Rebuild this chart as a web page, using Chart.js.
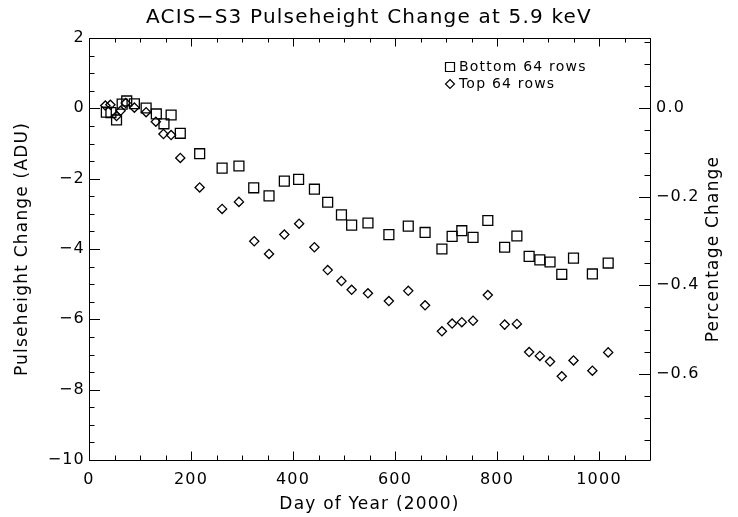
<!DOCTYPE html>
<html>
<head>
<meta charset="utf-8">
<script src="https://cdn.jsdelivr.net/npm/chart.js@4.4.1/dist/chart.umd.min.js"></script>
<style>
html,body{margin:0;padding:0;background:#fff;}
#wrap{width:738px;height:517px;}
</style>
</head>
<body>
<div id="wrap"><canvas id="c" width="738" height="517"></canvas></div>
<script>
// ---- data ----
const bottomDays = [34, 43, 54, 65, 74, 89, 112, 132, 147, 161, 179, 217, 261, 294, 323, 353, 383, 411, 442, 468, 495, 515, 547, 588, 626, 659, 692, 712, 731, 753, 782, 815, 839, 863, 884, 904, 927, 950, 987, 1018];
const bottomADU = [-0.11, -0.12, -0.33, 0.12, 0.21, 0.13, 0.01, -0.16, -0.44, -0.19, -0.71, -1.29, -1.70, -1.64, -2.26, -2.49, -2.07, -2.02, -2.30, -2.67, -3.03, -3.32, -3.26, -3.59, -3.35, -3.53, -4.00, -3.64, -3.48, -3.67, -3.19, -3.95, -3.63, -4.21, -4.31, -4.37, -4.72, -4.26, -4.71, -4.40];
const topDays = [32, 42, 54, 62, 72, 89, 112, 131, 146, 161, 179, 217, 261, 294, 324, 353, 383, 412, 442, 468, 495, 515, 547, 588, 626, 659, 692, 712, 731, 753, 782, 815, 839, 863, 884, 904, 927, 950, 987, 1018];
const topADU = [0.08, 0.10, -0.22, -0.07, 0.15, 0.02, -0.11, -0.38, -0.73, -0.76, -1.41, -2.25, -2.86, -2.66, -3.78, -4.14, -3.59, -3.28, -3.95, -4.60, -4.91, -5.16, -5.26, -5.48, -5.19, -5.60, -6.34, -6.12, -6.08, -6.04, -5.31, -6.15, -6.13, -6.93, -7.04, -7.20, -7.62, -7.17, -7.46, -6.94];
const seriesNames = ['Bottom 64 rows', 'Top 64 rows'];
const titleText = 'ACIS\u2212S3 Pulseheight Change at 5.9 keV';
const xTitle = 'Day of Year (2000)';
const yTitle = 'Pulseheight Change (ADU)';
const y2Title = 'Percentage Change';
const xRange = [0, 1100];
const yRange = [-10, 2];
const pctPerADU = 0.0795; // right axis: percent change per ADU

const FONT = "'DejaVu Sans', sans-serif";
const INK = '#000';
const SPACING = '1.2px';
function fmtMinus(s){ return String(s).replace('-', '\u2212'); }
function rangeTicks(lo, hi, step){
  const out = [];
  const n0 = Math.ceil(lo/step - 1e-9), n1 = Math.floor(hi/step + 1e-9);
  for (let n = n0; n <= n1; n++) out.push({value: +(n*step).toFixed(6)});
  return out;
}

const spacingPlugin = {
  id: 'spacing',
  beforeLayout(chart){ chart.ctx.letterSpacing = SPACING; },
  beforeDraw(chart){ chart.ctx.letterSpacing = SPACING; }
};

const frameTicks = {
  id: 'frameTicks',
  afterDraw(chart){
    const {ctx, chartArea: a, scales} = chart;
    ctx.save();
    ctx.strokeStyle = INK;
    ctx.lineWidth = 1;
    ctx.beginPath();
    ctx.rect(Math.round(a.left)+0.5, Math.round(a.top)+0.5, Math.round(a.right-a.left), Math.round(a.bottom-a.top));
    ctx.stroke();
    ctx.beginPath();
    scales.x.ticks.forEach(t => {
      const px = Math.round(scales.x.getPixelForValue(t.value)) + 0.5;
      const len = (Math.round(t.value) % 200 === 0) ? 8.5 : 4.5;
      ctx.moveTo(px, a.bottom); ctx.lineTo(px, a.bottom - len);
      ctx.moveTo(px, a.top); ctx.lineTo(px, a.top + len);
    });
    scales.y.ticks.forEach(t => {
      const py = Math.round(scales.y.getPixelForValue(t.value)) + 0.5;
      const len = (Math.abs(t.value % 2) < 1e-6) ? 11 : 5.5;
      ctx.moveTo(a.left, py); ctx.lineTo(a.left + len, py);
    });
    scales.y2.ticks.forEach(t => {
      const py = Math.round(scales.y2.getPixelForValue(t.value)) + 0.5;
      const len = (Math.round(t.value*100) % 20 === 0) ? 11 : 5.5;
      ctx.moveTo(a.right, py); ctx.lineTo(a.right - len, py);
    });
    ctx.stroke();

    // right axis title, reading bottom to top
    ctx.letterSpacing = SPACING;
    ctx.fillStyle = INK;
    ctx.font = '17px ' + FONT;
    ctx.textAlign = 'center';
    ctx.textBaseline = 'middle';
    ctx.translate(714, (a.top + a.bottom)/2);
    ctx.rotate(-Math.PI/2);
    ctx.fillText(y2Title, 0, 0);
    ctx.restore();

    // legend inside plot (open markers)
    ctx.save();
    ctx.letterSpacing = SPACING;
    ctx.font = '14px ' + FONT;
    ctx.textBaseline = 'middle';
    ctx.textAlign = 'left';
    const lx = 450, ly = [67, 84];
    chart.data.datasets.forEach((ds, i) => {
      ctx.strokeStyle = INK;
      ctx.lineWidth = 1.2;
      ctx.beginPath();
      if (ds.pointStyle === 'rect') {
        ctx.rect(lx - 4.5, ly[i] - 4.5, 9, 9);
      } else {
        ctx.moveTo(lx, ly[i] - 4.5); ctx.lineTo(lx + 4.5, ly[i]);
        ctx.lineTo(lx, ly[i] + 4.5); ctx.lineTo(lx - 4.5, ly[i]); ctx.closePath();
      }
      ctx.stroke();
      ctx.fillStyle = INK;
      ctx.fillText(ds.label, lx + 9, ly[i] + 0.5);
    });
    ctx.restore();
  }
};

new Chart(document.getElementById('c'), {
  type: 'scatter',
  data: {
    datasets: [
      { label: seriesNames[0], data: bottomDays.map((d,i)=>({x:d, y:bottomADU[i]})),
        pointStyle: 'rect', pointRadius: 7, pointBorderWidth: 1.3, borderColor: INK, backgroundColor: 'rgba(0,0,0,0)', yAxisID: 'y' },
      { label: seriesNames[1], data: topDays.map((d,i)=>({x:d, y:topADU[i]})),
        pointStyle: 'rectRot', pointRadius: 4.6, pointBorderWidth: 1.3, borderColor: INK, backgroundColor: 'rgba(0,0,0,0)', yAxisID: 'y' }
    ]
  },
  options: {
    responsive: false,
    animation: false,
    layout: { padding: 0 },
    plugins: {
      legend: { display: false },
      tooltip: { enabled: false },
      title: { display: true, text: titleText, color: INK, font: { family: FONT, size: 20, weight: 'normal' }, padding: { top: 6, bottom: 8 } }
    },
    scales: {
      x: {
        type: 'linear', min: xRange[0], max: xRange[1],
        grid: { display: false, drawTicks: false }, border: { display: false },
        afterBuildTicks: s => { s.ticks = rangeTicks(xRange[0], xRange[1], 50); },
        afterFit: s => { s.height = 57; },
        ticks: { autoSkip: false, maxRotation: 0, padding: 10, color: INK, font: { family: FONT, size: 16 },
          callback: v => (Math.round(v) % 200 === 0 ? String(v) : '') },
        title: { display: true, text: xTitle, color: INK, font: { family: FONT, size: 17 }, padding: { top: 0, bottom: 2 } }
      },
      y: {
        type: 'linear', position: 'left', min: yRange[0], max: yRange[1],
        grid: { display: false, drawTicks: false }, border: { display: false },
        afterBuildTicks: s => { s.ticks = rangeTicks(yRange[0], yRange[1], 0.5); },
        afterFit: s => { s.width = 89; },
        ticks: { autoSkip: false, padding: 4, color: INK, font: { family: FONT, size: 16 },
          callback: v => (Math.abs(v % 2) < 1e-6 ? fmtMinus(v) : '') },
        title: { display: true, text: yTitle, color: INK, font: { family: FONT, size: 17 }, padding: { top: 12, bottom: 0 } }
      },
      y2: {
        type: 'linear', position: 'right', min: yRange[0]*pctPerADU, max: yRange[1]*pctPerADU,
        grid: { display: false, drawTicks: false }, border: { display: false },
        afterBuildTicks: s => { s.ticks = rangeTicks(yRange[0]*pctPerADU, yRange[1]*pctPerADU, 0.05); },
        afterFit: s => { s.width = 88; },
        ticks: { autoSkip: false, padding: 6, color: INK, font: { family: FONT, size: 16 },
          callback: v => (Math.round(v*100) % 20 === 0 ? fmtMinus(v.toFixed(1)) : '') }
      }
    }
  },
  plugins: [spacingPlugin, frameTicks]
});
</script>
</body>
</html>
